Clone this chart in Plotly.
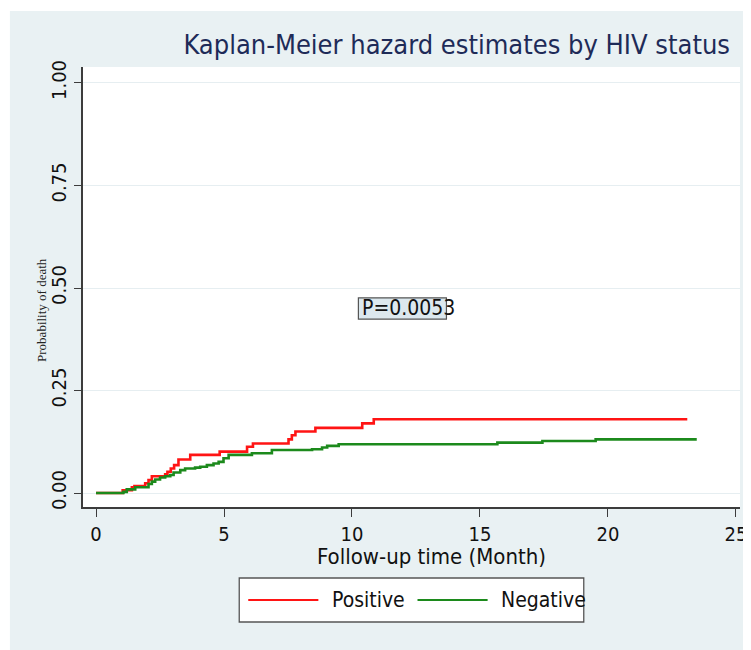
import plotly.graph_objects as go

# ---- data ----
pos_time = [0, 1.04, 1.40, 1.50, 1.92, 2.05, 2.18, 2.70, 2.79, 2.92, 3.05, 3.22, 3.68,
            4.83, 5.90, 6.13, 7.52, 7.65, 7.79, 8.57, 10.40, 10.85, 23.10]
pos_prob = [0, 0.007, 0.014, 0.017, 0.024, 0.032, 0.041, 0.046, 0.052, 0.060, 0.068, 0.082, 0.093,
            0.101, 0.113, 0.121, 0.131, 0.141, 0.150, 0.159, 0.170, 0.180, 0.180]

neg_time = [0, 1.07, 1.20, 1.33, 1.53, 2.05, 2.18, 2.31, 2.50, 2.70, 2.90, 3.03, 3.29, 3.48,
            3.87, 4.07, 4.33, 4.59, 4.79, 4.98, 5.18, 6.09, 6.87, 8.44, 8.83, 9.03, 9.48,
            15.68, 17.44, 19.52, 23.47]
neg_prob = [0, 0.003, 0.009, 0.009, 0.014, 0.022, 0.028, 0.033, 0.038, 0.041, 0.044, 0.050, 0.056, 0.060,
            0.062, 0.064, 0.068, 0.072, 0.076, 0.085, 0.093, 0.097, 0.105, 0.107, 0.111, 0.115, 0.119,
            0.123, 0.127, 0.131, 0.131]

series_names = ["Positive", "Negative"]
series_colors = ["#ff1414", "#1c8a1c"]
y_ticks = [0, 0.25, 0.5, 0.75, 1.0]
y_ticklabels = ["0.00", "0.25", "0.50", "0.75", "1.00"]
x_ticks = [0, 5, 10, 15, 20, 25]
title_text = "Kaplan-Meier hazard estimates by HIV status"
x_title = "Follow-up time (Month)"
y_title = "Probability of death"
p_text = "P=0.0053"

FONT = "DejaVu Sans Condensed, DejaVu Sans"
PANEL = "#e9f1f3"
AXC = "#3c3c3c"

fig = go.Figure()
for t, p, name, col in [(pos_time, pos_prob, series_names[0], series_colors[0]),
                        (neg_time, neg_prob, series_names[1], series_colors[1])]:
    fig.add_trace(go.Scatter(x=t, y=p, mode="lines", name=name, line_shape="hv",
                             line=dict(color=col, width=2.6), showlegend=False))

# the page body has an 8px margin; all positions below are in window pixels
OFF = 8
FH = 650 - OFF
# plot area (window px): x 83..739, y 67..507
L, R, T, B = 83, 739, 67, 507
W, H = R - L, B - T
def px(x):
    return (x - L) / W
def py(y):
    return (B - y) / H

shapes = [
    dict(type="rect", xref="paper", yref="paper", x0=px(10), x1=px(780), y0=py(680), y1=py(11),
         fillcolor=PANEL, line=dict(width=0), layer="below"),
    dict(type="rect", xref="paper", yref="paper", x0=0, x1=1, y0=0, y1=1,
         fillcolor="white", line=dict(width=0), layer="below"),
    # P-value box
    dict(type="rect", xref="x", yref="y", x0=10.25, x1=13.69, y0=0.424, y1=0.476,
         fillcolor="#dce8ee", line=dict(color="#555555", width=1.2), layer="above"),
    # legend box
    dict(type="rect", xref="paper", yref="paper", x0=px(239), x1=px(583), y0=py(622), y1=py(578),
         fillcolor="white", line=dict(color="#555555", width=1.3)),
    dict(type="line", xref="paper", yref="paper", x0=px(248), x1=px(318), y0=py(600), y1=py(600),
         line=dict(color=series_colors[0], width=2)),
    dict(type="line", xref="paper", yref="paper", x0=px(417), x1=px(487), y0=py(600), y1=py(600),
         line=dict(color=series_colors[1], width=2)),
]

annotations = [
    dict(text=p_text, x=10.30, y=0.451, xref="x", yref="y", xanchor="left", yanchor="middle",
         showarrow=False, font=dict(family=FONT, size=21, color="#111111")),
    dict(text=x_title, x=px(431), y=py(556), xref="paper", yref="paper", xanchor="center",
         yanchor="middle", showarrow=False, font=dict(family=FONT, size=22, color="#111111")),
    dict(text=y_title, x=px(41), y=py(310), xref="paper", yref="paper", xanchor="center",
         yanchor="middle", textangle=-90, showarrow=False,
         font=dict(family="Liberation Serif, Times New Roman, serif", size=13, color="#222222")),
    dict(text=series_names[0], x=px(330), y=py(600), xref="paper", yref="paper", xanchor="left",
         yanchor="middle", showarrow=False, font=dict(family=FONT, size=21, color="#111111")),
    dict(text=series_names[1], x=px(498), y=py(600), xref="paper", yref="paper", xanchor="left",
         yanchor="middle", showarrow=False, font=dict(family=FONT, size=21, color="#111111")),
]

fig.update_layout(
    width=751, height=FH,
    margin=dict(l=L - OFF, r=751 - R, t=T - OFF, b=650 - B),
    paper_bgcolor="white", plot_bgcolor="white",
    title=dict(text=title_text, x=px(729), xref="paper", xanchor="right",
               y=1 - (45 - OFF) / FH, yref="container", yanchor="middle",
               font=dict(family=FONT, size=27, color="#1e2b58")),
    shapes=shapes, annotations=annotations, showlegend=False,
)
fig.update_xaxes(range=[-0.51, 25.16], tickvals=x_ticks, ticks="outside", ticklen=8,
                 tickcolor=AXC, tickwidth=1.3, showline=True, linecolor=AXC, linewidth=1.5,
                 showgrid=False, zeroline=False, ticklabelstandoff=0,
                 tickfont=dict(family=FONT, size=20, color="#111111"))
fig.update_yaxes(range=[-0.034, 1.039], tickvals=y_ticks, ticktext=y_ticklabels, ticks="outside",
                 ticklen=7, tickcolor=AXC, tickwidth=1.3, showline=True, linecolor=AXC, linewidth=1.5,
                 showgrid=True, gridcolor="#e6eef1", gridwidth=1, zeroline=False, tickangle=-90,
                 ticklabelstandoff=0, tickfont=dict(family=FONT, size=20, color="#111111"))

fig.write_html("out.html")
